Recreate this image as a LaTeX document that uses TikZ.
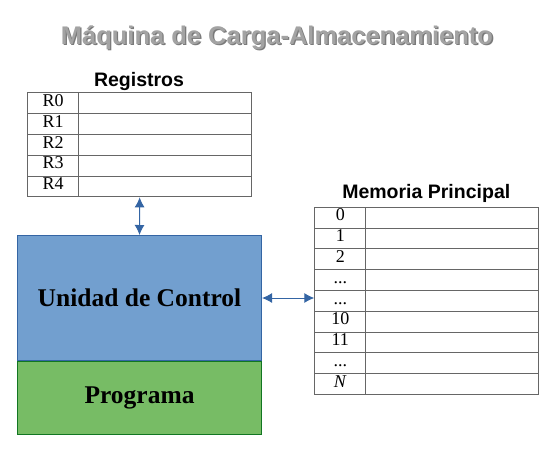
\documentclass[tikz,border=0pt]{standalone}
\usepackage{fontspec}
\setmainfont{Liberation Serif}
\newfontfamily\headfont{Liberation Sans}
\usetikzlibrary{arrows.meta}

\definecolor{ucblue}{HTML}{729FCF}
\definecolor{ucborder}{HTML}{3465A4}
\definecolor{proggreen}{HTML}{77BC65}
\definecolor{progborder}{HTML}{127622}
\definecolor{titlegray}{HTML}{A3A3A3}
\definecolor{shadowgray}{HTML}{7A7A7A}
\definecolor{gridgray}{HTML}{666666}

\newcommand{\threedots}{.\kern0pt.\kern0pt.}

\tikzset{
	titletext/.style={font=\headfont\bfseries\fontsize{25.5}{30}\selectfont, anchor=base, inner sep=0pt},
	headtext/.style={font=\headfont\bfseries\fontsize{19.5}{23}\selectfont, anchor=base, inner sep=0pt},
	tablebox/.style={draw=gridgray, line width=1pt, anchor=north west, inner sep=0pt},
	labcell/.style={draw=gridgray, line width=1pt, anchor=north west, inner sep=0pt,
		minimum height=20.8pt, text height=0.64em, text depth=0pt,
		font=\fontsize{18}{21}\selectfont},
	valcell/.style={draw=gridgray, line width=1pt, anchor=north west, inner sep=0pt,
		minimum height=20.8pt},
	unitbox/.style={line width=1pt, inner sep=0pt, minimum width=244pt,
		font=\bfseries\fontsize{25.5}{30}\selectfont},
	busarrow/.style={{Latex[length=10pt,width=10pt]}-{Latex[length=10pt,width=10pt]}, draw=ucborder, line width=1pt}
}

\begin{document}
\begin{tikzpicture}[x=1pt,y=-1pt]
	\useasboundingbox (0,0) rectangle (559,458);
	
	% Title
	\node[titletext, text=shadowgray] (titleshadow) at (278.3,45.3) {Máquina de Carga-Almacenamiento};
	\node[titletext, text=titlegray] (title) at (277,44) {Máquina de Carga-Almacenamiento};
	
	% Registros
	\begin{scope}
		\node[headtext] (reglabel) at (139,86) {Registros};
		\node[tablebox, minimum width=223.7pt, minimum height=104pt] (regtab) at (27.3,92.3) {};
		\foreach \i/\lab in {0/R0,1/R1,2/R2,3/R3,4/R4} {
			\node[labcell, minimum width=50.7pt] (reg\i) at (27.3,{92.3+20.8*\i}) {\lab};
			\node[valcell, minimum width=173pt] (regv\i) at (78,{92.3+20.8*\i}) {};
		}
	\end{scope}
	
	% Memoria Principal
	\begin{scope}
		\node[headtext] (memlabel) at (426.3,198.3) {Memoria Principal};
		\node[tablebox, minimum width=224pt, minimum height=187.2pt] (memtab) at (314.3,206.7) {};
		\foreach \i/\lab in {0/0,1/1,2/2,3/\threedots,4/\threedots,5/10,6/11,7/\threedots,8/\textit{N}} {
			\node[labcell, minimum width=51pt] (mem\i) at (314.3,{206.7+20.8*\i}) {\lab};
			\node[valcell, minimum width=173pt] (memv\i) at (365.3,{206.7+20.8*\i}) {};
		}
	\end{scope}
	
	% Unidad de Control + Programa
	\node[unitbox, draw=ucborder, fill=ucblue, minimum height=125pt, anchor=north west] (uc) at (17,235) {Unidad de Control};
	\node[unitbox, draw=progborder, fill=proggreen, minimum height=73pt, anchor=north] (prog) at (uc.south) {Programa};
	
	% Buses
	\draw[busarrow] (regtab.south) -- (uc.north);
	\draw[busarrow] (uc.east) -- (uc.east -| memtab.west);
\end{tikzpicture}
\end{document}
